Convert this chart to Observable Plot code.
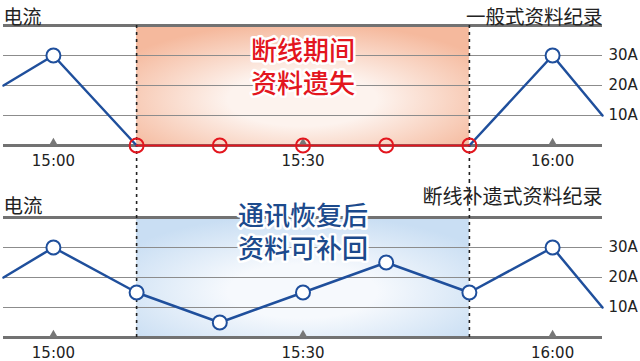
<!DOCTYPE html>
<html><head><meta charset="utf-8">
<script src="https://cdn.jsdelivr.net/npm/d3@7"></script>
<script src="https://cdn.jsdelivr.net/npm/@observablehq/plot@0.6"></script>
<style>
body{margin:0;background:#fff}
#chart{width:640px;height:361px;overflow:hidden}
#chart svg{display:block}
</style>
</head><body><div id="chart"></div>
<script>
// ---- data ----
const times = ["14:54","15:00","15:10","15:20","15:30","15:40","15:50","16:00","16:06"];
const normalCurrent = [20, 30, 0, 0, 0, 0, 0, 30, 10];      // 一般式资料纪录 (gap logged as 0)
const backfilledCurrent = [20, 30, 15, 5, 15, 25, 15, 30, 10]; // 断线补遗式资料纪录
const gapStart = "15:10";
const gapEnd = "15:50";
const xTicks = ["15:00", "15:30", "16:00"];
const yTicks = [10, 20, 30];
const yDomain = [0, 40];
const unitLabel = "电流";
const topTitle = "一般式资料纪录";
const bottomTitle = "断线补遗式资料纪录";
const topNote = "断线期间\n资料遗失";
const bottomNote = "通讯恢复后\n资料可补回";

// ---- helpers ----
const toMin = s => { const [h, m] = s.split(":").map(Number); return h * 60 + m; };
const fmt = m => `${Math.floor(m / 60)}:${String(m % 60).padStart(2, "0")}`;
const gs = toMin(gapStart), ge = toMin(gapEnd);
const tMin = toMin(times[0]), tMax = toMin(times[times.length - 1]);
const last = times.length - 1;
const rows = times.map((t, i) => ({t: toMin(t), normal: normalCurrent[i], back: backfilledCurrent[i], i}));

const BLUE = "#1f4f9c", RED = "#e3161e", CJK = "Noto Sans CJK SC, sans-serif";

function base(opts) {
  return {
    width: 640,
    height: opts.height,
    marginLeft: 3,
    marginRight: 38,
    marginTop: opts.marginTop,
    marginBottom: opts.marginBottom,
    x: {domain: [tMin, tMax]},
    y: {domain: yDomain},
    style: {fontFamily: "DejaVu Sans, sans-serif", fontSize: "15px", color: "#222", background: "transparent"}
  };
}

function commonMarks(gradId, frameExt) {
  return [
    Plot.rect([{x1: gs, x2: ge, y1: yDomain[0], y2: yDomain[1]}], {x1: "x1", x2: "x2", y1: "y1", y2: "y2", fill: `url(#${gradId})`}),
    Plot.ruleY(yTicks, {stroke: "#8c8c8c", strokeWidth: 1}),
    Plot.ruleY(yDomain, {stroke: "#727272", strokeWidth: 3}),
    Plot.dot(xTicks.map(toMin), {x: d => d, y: () => 0, symbol: "triangle", r: 3.3, fill: "#777", dy: -2.5}),
    Plot.ruleX([gs, ge], {stroke: "#222", strokeWidth: 1.6, strokeDasharray: "3,4", ...frameExt}),
    Plot.axisX(xTicks.map(toMin), {tickSize: 0, tickPadding: 10, tickFormat: fmt, fontSize: 15, label: null}),
    Plot.axisY(yTicks, {anchor: "right", tickSize: 0, tickPadding: 6, tickFormat: d => d + "A", fontSize: 15, label: null})
  ];
}

// ---- top panel ----
const topPlot = Plot.plot({
  ...base({height: 180, marginTop: 25, marginBottom: 35}),
  marks: [
    ...commonMarks("gradTop", {insetBottom: -36}),
    Plot.line(rows.filter(r => r.t <= gs || r.t >= ge), {x: "t", y: "normal", z: r => r.t <= gs ? "a" : "b", stroke: BLUE, strokeWidth: 2.5}),
    Plot.line(rows.filter(r => r.t >= gs && r.t <= ge), {x: "t", y: "normal", stroke: RED, strokeWidth: 2.2}),
    Plot.dot(rows.filter(r => r.i > 0 && r.i < last && (r.t < gs || r.t > ge)), {x: "t", y: "normal", r: 7, fill: "white", stroke: BLUE, strokeWidth: 2}),
    Plot.dot(rows.filter(r => r.t >= gs && r.t <= ge), {x: "t", y: "normal", r: 7, fill: "none", stroke: RED, strokeWidth: 2}),
    Plot.text([topNote], {x: () => (gs + ge) / 2, frameAnchor: "top", lineAnchor: "top", dy: 11, text: d => d, fontSize: 26, fontWeight: 500, lineHeight: 1.28, fontFamily: CJK, fill: RED, stroke: "white", strokeWidth: 5}),
    Plot.text([unitLabel], {frameAnchor: "top-left", textAnchor: "start", lineAnchor: "bottom", dy: -2, text: d => d, fontSize: 19, fontFamily: CJK, fill: "#222"}),
    Plot.text([topTitle], {frameAnchor: "top-right", textAnchor: "end", lineAnchor: "bottom", dy: -2, text: d => d, fontSize: 19.5, fontFamily: CJK, fill: "#222"})
  ]
});

// ---- bottom panel ----
const bottomPlot = Plot.plot({
  ...base({height: 181, marginTop: 37, marginBottom: 24}),
  marks: [
    ...commonMarks("gradBottom", {insetTop: -37}),
    Plot.line(rows, {x: "t", y: "back", stroke: BLUE, strokeWidth: 2.5}),
    Plot.dot(rows.filter(r => r.i > 0 && r.i < last), {x: "t", y: "back", r: 7, fill: "white", stroke: BLUE, strokeWidth: 2}),
    Plot.text([bottomNote], {x: () => (gs + ge) / 2, frameAnchor: "top", lineAnchor: "top", dy: -17, text: d => d, fontSize: 26, fontWeight: 500, lineHeight: 1.3, fontFamily: CJK, fill: "#1c4a8c", stroke: "white", strokeWidth: 5}),
    Plot.text([unitLabel], {frameAnchor: "top-left", textAnchor: "start", lineAnchor: "middle", dy: -11, text: d => d, fontSize: 19.5, fontFamily: CJK, fill: "#222"}),
    Plot.text([bottomTitle], {frameAnchor: "top-right", textAnchor: "end", lineAnchor: "middle", dy: -20, text: d => d, fontSize: 20, fontFamily: CJK, fill: "#222"})
  ]
});

function addGradient(svg, id, inner, outer) {
  d3.select(svg).insert("defs", ":first-child").html(
    `<radialGradient id="${id}" cx="0.5" cy="0.62" r="0.64" fx="0.5" fy="0.62">
       <stop offset="0" stop-color="${inner}"/>
       <stop offset="0.35" stop-color="${inner}" stop-opacity="1"/>
       <stop offset="1" stop-color="${outer}"/>
     </radialGradient>`);
}
addGradient(topPlot, "gradTop", "#fdf3ee", "#f5b99d");
addGradient(bottomPlot, "gradBottom", "#f6f9fd", "#c9def3");

const chart = document.getElementById("chart");
chart.appendChild(topPlot);
chart.appendChild(bottomPlot);
</script>
</body></html>
